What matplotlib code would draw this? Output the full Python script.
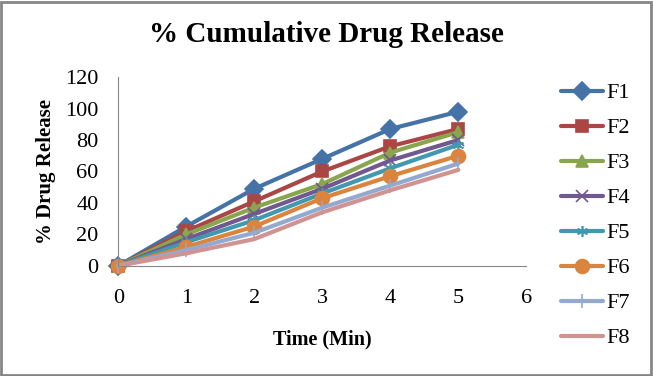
import matplotlib.pyplot as plt
from matplotlib.patches import Rectangle

time = [0, 1, 2, 3, 4, 5]
labels = ["F1", "F2", "F3", "F4", "F5", "F6", "F7", "F8"]
f1 = [0, 25, 49, 68, 87, 98]
f2 = [0, 22, 41, 60, 76, 87]
f3 = [0, 20, 37, 52, 72, 85]
f4 = [0, 17, 33, 49, 67, 80]
f5 = [0, 15, 29, 46, 62, 77]
f6 = [0, 12, 25, 43, 57, 70]
f7 = [0, 10, 21, 37, 51, 65]
f8 = [0, 8, 17, 34, 48, 61]
series = [f1, f2, f3, f4, f5, f6, f7, f8]

colors = ["#4572A7", "#AA4643", "#89A54E", "#71588F",
          "#4198AF", "#DB843D", "#93A9CF", "#D19392"]
markers = ["D", "s", "^", "x", (6, 2, 0), "o", "|", None]
msizes = [9, 9, 9, 8, 8, 10, 10, 0]

plt.rcParams['font.family'] = ['Liberation Serif', 'DejaVu Serif']

fig = plt.figure(figsize=(6.53, 3.76), dpi=100)
ax = fig.add_axes([0.181, 0.293, 0.625, 0.502])

for ys, lab, c, m, ms in zip(series, labels, colors, markers, msizes):
    ax.plot(time, ys, color=c, lw=3, marker=m, markersize=ms,
            markeredgecolor=c, markeredgewidth=1.2, label=lab,
            solid_capstyle='round', clip_on=False)

ax.set_xlim(0, 6)
ax.set_ylim(0, 120)
ax.set_xticks(range(0, 7))
ax.set_yticks(range(0, 121, 20))
for s in ['top', 'right']:
    ax.spines[s].set_visible(False)
for s in ['left', 'bottom']:
    ax.spines[s].set_color('#868686')
ax.tick_params(axis='both', length=0, labelsize=16)
ax.tick_params(axis='x', pad=17)
ax.tick_params(axis='y', pad=14)

ax.set_xlabel("Time (Min)", fontsize=14.5, fontweight='bold', labelpad=15)
ax.set_ylabel("% Drug Release", fontsize=15, fontweight='bold', labelpad=7)
fig.text(0.5, 0.907, "% Cumulative Drug Release", ha='center', va='center',
         fontsize=21, fontweight='bold')

leg = ax.legend(loc='upper left', bbox_to_anchor=(1.035, 1.075), frameon=False,
                fontsize=16, handlelength=1.9, handletextpad=0.15,
                labelspacing=0.65)

fig.add_artist(Rectangle((0.002, 0.003), 0.995, 0.993, transform=fig.transFigure,
                         fill=False, edgecolor='#868686', lw=2))

fig.savefig("out.png", dpi=100)
